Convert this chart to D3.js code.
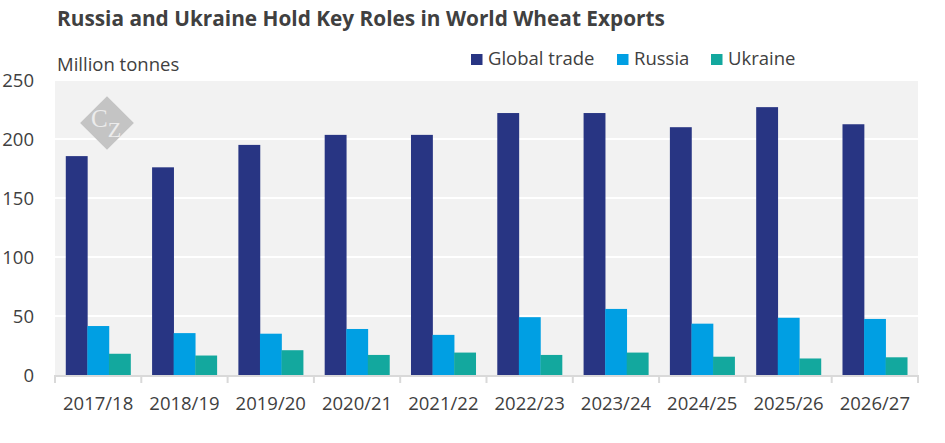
<!DOCTYPE html>
<html lang="en">
<head>
  <meta charset="UTF-8">
  <title>Russia and Ukraine Hold Key Roles in World Wheat Exports</title>
  <script src="https://d3js.org/d3.v7.min.js"></script>
  <style>
    body { margin: 0; background: #fff; }
    text { font-family: "Open Sans", sans-serif; fill: #404040; }
  </style>
</head>
<body>
  <div id="chart"></div>

  <script>
    // Marketing years
    const seasons = ["2017/18", "2018/19", "2019/20", "2020/21", "2021/22",
                     "2022/23", "2023/24", "2024/25", "2025/26", "2026/27"];

    // Million tonnes
    const globalTrade = [185.5, 176, 195, 203.5, 203.5, 222, 222, 210, 227, 212.5];
    const russia      = [41.5, 35.5, 35, 39, 34, 49, 56, 43.5, 48.5, 47.5];
    const ukraine     = [18, 16.5, 21, 17, 19, 17, 19, 15.5, 14, 15];

    const seriesNames = ["Global trade", "Russia", "Ukraine"];
    const seriesColors = ["#283583", "#009fe3", "#13a89e"];
    const yTicks = [0, 50, 100, 150, 200, 250];

    const W = 945, H = 443;
    const margin = { top: 80, right: 27, bottom: 68, left: 55 };
    const width = W - margin.left - margin.right;
    const height = H - margin.top - margin.bottom;
    const fs = "18.5px";

    const table = seasons.map((s, i) => ({
      season: s,
      values: [globalTrade[i], russia[i], ukraine[i]]
    }));

    const svg = d3.select("#chart")
      .append("svg")
      .attr("width", W)
      .attr("height", H);

    // Title
    svg.append("text")
      .attr("x", 57)
      .attr("y", 26)
      .style("font-size", "20.8px")
      .style("font-weight", "bold")
      .text("Russia and Ukraine Hold Key Roles in World Wheat Exports");

    // Unit label
    svg.append("text")
      .attr("x", 57)
      .attr("y", 71)
      .style("font-size", fs)
      .text("Million tonnes");

    // Legend
    const legendX = [471, 617, 711];
    const legend = svg.append("g").selectAll("g")
      .data(seriesNames)
      .enter()
      .append("g")
      .attr("transform", (d, i) => "translate(" + legendX[i] + ",54)");
    legend.append("rect")
      .attr("width", 11.5)
      .attr("height", 11)
      .attr("fill", (d, i) => seriesColors[i]);
    legend.append("text")
      .attr("x", 17)
      .attr("y", 11)
      .style("font-size", fs)
      .text(d => d);

    const g = svg.append("g")
      .attr("transform", "translate(" + margin.left + "," + margin.top + ")");

    const x = d3.scaleBand()
      .domain(seasons)
      .range([0, width])
      .paddingInner(0.25)
      .paddingOuter(0.125);

    const xSub = d3.scaleBand()
      .domain(d3.range(seriesNames.length))
      .range([0, x.bandwidth()]);

    const y = d3.scaleLinear()
      .domain([0, 250])
      .range([height, 0]);

    // Plot background
    g.append("rect")
      .attr("width", width)
      .attr("height", height)
      .attr("fill", "#f2f2f2");

    // Gridlines
    g.append("g")
      .selectAll("line")
      .data(yTicks.slice(1))
      .enter()
      .append("line")
      .attr("x1", 0)
      .attr("x2", width)
      .attr("y1", d => y(d))
      .attr("y2", d => y(d))
      .attr("stroke", "#fff")
      .attr("stroke-width", 2);

    // Watermark (diamond with CZ monogram)
    const wm = g.append("g")
      .attr("transform", "translate(52,43)");
    wm.append("rect")
      .attr("x", -19)
      .attr("y", -19)
      .attr("width", 38)
      .attr("height", 38)
      .attr("transform", "rotate(45)")
      .attr("fill", "#c4c4c4");
    const mono = wm.append("text")
      .attr("x", -16)
      .attr("y", 4)
      .style("font-family", "'Liberation Serif', 'DejaVu Serif', serif")
      .style("fill", "#ececec");
    mono.append("tspan")
      .style("font-size", "25px")
      .text("C");
    mono.append("tspan")
      .attr("dy", 10)
      .style("font-size", "22px")
      .text("Z");

    // Bars
    const groups = g.append("g")
      .selectAll("g")
      .data(table)
      .enter()
      .append("g")
      .attr("transform", d => "translate(" + x(d.season) + ",0)");

    groups.selectAll("rect")
      .data(d => d.values)
      .enter()
      .append("rect")
      .attr("x", (d, i) => xSub(i))
      .attr("width", xSub.bandwidth() + 0.3)
      .attr("y", d => y(d))
      .attr("height", d => height - y(d))
      .attr("fill", (d, i) => seriesColors[i]);

    // X axis with ticks between categories
    const xAxis = g.append("g")
      .attr("transform", "translate(0," + height + ")");
    xAxis.append("line")
      .attr("x1", 0)
      .attr("x2", width)
      .attr("y1", 1)
      .attr("y2", 1)
      .attr("stroke", "#d9d9d9")
      .attr("stroke-width", 2);
    xAxis.selectAll(".tick-mark")
      .data(d3.range(seasons.length + 1))
      .enter()
      .append("line")
      .attr("class", "tick-mark")
      .attr("x1", i => i * width / seasons.length)
      .attr("x2", i => i * width / seasons.length)
      .attr("y1", 0)
      .attr("y2", 8)
      .attr("stroke", "#d9d9d9")
      .attr("stroke-width", 2);
    xAxis.selectAll(".label")
      .data(seasons)
      .enter()
      .append("text")
      .attr("class", "label")
      .attr("x", d => x(d) + x.bandwidth() / 2)
      .attr("y", 35)
      .attr("text-anchor", "middle")
      .style("font-size", fs)
      .text(d => d);

    // Y axis labels
    g.append("g")
      .selectAll("text")
      .data(yTicks)
      .enter()
      .append("text")
      .attr("x", -21)
      .attr("y", d => y(d))
      .attr("dy", "0.36em")
      .attr("text-anchor", "end")
      .style("font-size", fs)
      .text(d => d);
  </script>
</body>
</html>
